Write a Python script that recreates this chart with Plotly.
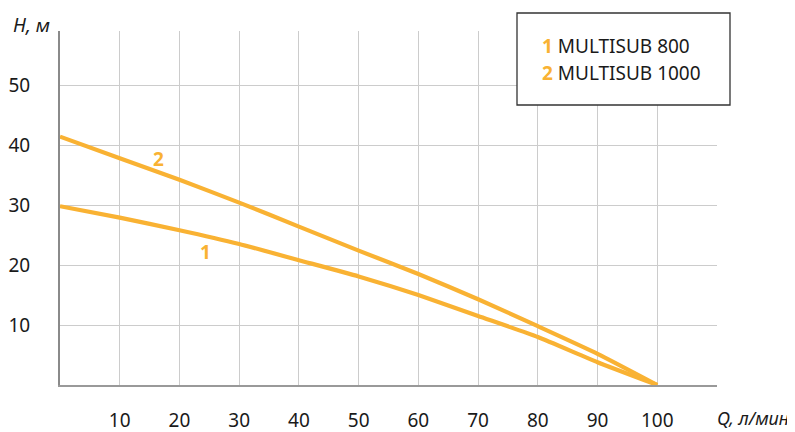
import plotly.graph_objects as go

q_values = [0, 10, 20, 30, 40, 50, 60, 70, 80, 90, 100]
h_multisub_800 = [29.8, 27.9, 25.8, 23.5, 20.8, 18.1, 15.0, 11.5, 8.0, 3.8, 0]
h_multisub_1000 = [41.4, 37.8, 34.2, 30.4, 26.4, 22.4, 18.5, 14.3, 9.8, 5.2, 0]
series_names = ["MULTISUB 800", "MULTISUB 1000"]
x_tick_vals = [10, 20, 30, 40, 50, 60, 70, 80, 90, 100, 110]
x_tick_text = ["10", "20", "30", "40", "50", "60", "70", "80", "90", "100", ""]
y_tick_vals = [10, 20, 30, 40, 50]

ORANGE = "#F9B233"
FONT = "Noto Sans"
TXT = "#1a1a1a"
FS = 19

# page has an 8px body margin; plot area in page pixels: x 60..717, y 31..385
fig = go.Figure()
for name, ys in zip(series_names, [h_multisub_800, h_multisub_1000]):
    fig.add_trace(go.Scatter(x=q_values, y=ys, mode="lines", name=name,
                             line=dict(color=ORANGE, width=4.2, shape="spline", smoothing=0.5),
                             showlegend=False))

# curve labels
fig.add_annotation(x=24.4, y=22.2, text="<b>1</b>", showarrow=False,
                   font=dict(family=FONT, size=FS, color=ORANGE))
fig.add_annotation(x=16.5, y=37.7, text="<b>2</b>", showarrow=False,
                   font=dict(family=FONT, size=FS, color=ORANGE))

# legend box
fig.add_shape(type="rect", xref="paper", yref="paper",
              x0=(517 - 60) / 657, x1=(730 - 60) / 657,
              y0=(385 - 105) / 354, y1=(385 - 13) / 354,
              line=dict(color="#333333", width=1.3), fillcolor="white", layer="above")
for i, name in enumerate(series_names):
    ypix = 46 + i * 27
    fig.add_annotation(xref="paper", yref="paper",
                       x=(540 - 60) / 657, y=(385 - ypix) / 354,
                       xanchor="left", yanchor="middle", showarrow=False,
                       text=f"<b><span style='color:{ORANGE}'>{i + 1}</span></b> {name}",
                       font=dict(family=FONT, size=FS, color=TXT))

# axis titles
fig.add_annotation(xref="paper", yref="paper", x=(11 - 60) / 657, y=(385 - 25) / 354,
                   xanchor="left", yanchor="middle", showarrow=False,
                   text="<i>H, м</i>", font=dict(family=FONT, size=FS, color=TXT))
fig.add_annotation(xref="paper", yref="paper", x=(791 - 60) / 657, y=(385 - 418) / 354,
                   xanchor="right", yanchor="middle", showarrow=False,
                   text="<i>Q, л/мин</i>", font=dict(family=FONT, size=18, color=TXT))

fig.update_xaxes(range=[0, 110], tickvals=x_tick_vals, ticktext=x_tick_text,
                 showgrid=True, gridcolor="#cccccc", gridwidth=1.3,
                 showline=True, linecolor="#999999", linewidth=2,
                 zeroline=False, ticks="", ticklabelstandoff=17, automargin=False,
                 tickfont=dict(family=FONT, size=FS, color=TXT))
fig.update_yaxes(range=[0, 59], tickvals=y_tick_vals,
                 showgrid=True, gridcolor="#cccccc", gridwidth=1.3,
                 showline=True, linecolor="#8a8a8a", linewidth=2,
                 zeroline=False, ticks="", ticklabelstandoff=24, automargin=False,
                 tickfont=dict(family=FONT, size=FS, color=TXT))

fig.update_layout(width=787, height=424, plot_bgcolor="white", paper_bgcolor="white",
                  margin=dict(l=52, r=78, t=23, b=47), showlegend=False)

fig.write_html("out.html")
